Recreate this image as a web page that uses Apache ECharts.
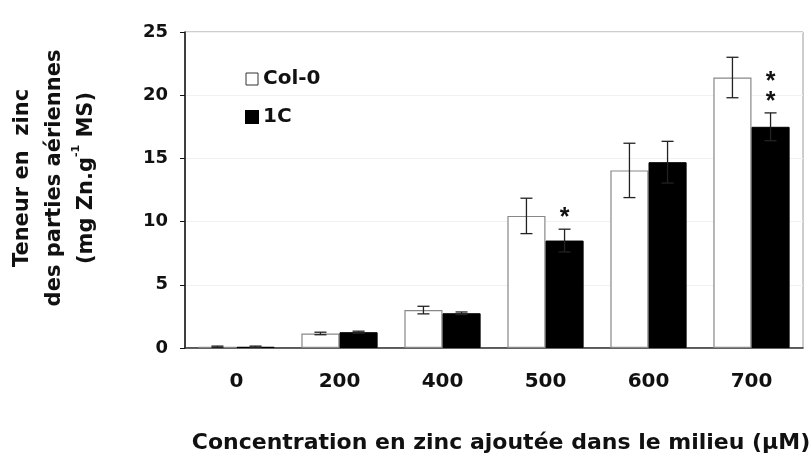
<!DOCTYPE html>
<html>
<head>
<meta charset="utf-8">
<script src="https://cdn.jsdelivr.net/npm/echarts@6/dist/echarts.min.js"></script>
<style>
  html, body { margin: 0; padding: 0; background: #fff; }
  #chart { width: 811px; height: 457px; }
</style>
</head>
<body>
<div id="chart"></div>
<script>
// concentrations (µM)
const categories = ['0', '200', '400', '500', '600', '700'];
// teneur en zinc (mg Zn.g-1 MS)
const col0 = [0.1, 1.15, 3.0, 10.45, 14.05, 21.4];
const col0Err = [0.05, 0.1, 0.3, 1.4, 2.15, 1.6];
const line1C = [0.1, 1.25, 2.75, 8.5, 14.7, 17.5];
const line1CErr = [0.05, 0.08, 0.1, 0.9, 1.65, 1.1];
const signif1C = ['', '', '', '*', '', '*\n*'];
const yTicks = [0, 5, 10, 15, 20, 25];

const FONT = 'DejaVu Sans, sans-serif';
const STAR_FONT = 'Liberation Sans, Arial, sans-serif';
const GAP = 0.26; // barCategoryGap

const chart = echarts.init(document.getElementById('chart'));

// barres d'erreur + astérisques, décalées sur la barre correspondante
function errorSeries(name, values, errs, side, marks) {
  return {
    type: 'custom',
    name: name + '-err',
    z: 5,
    data: values.map((v, i) => [i, v, errs[i]]),
    renderItem: function (params, api) {
      const i = api.value(0);
      const v = api.value(1);
      const e = api.value(2);
      const band = api.size([1, 0])[0];
      const bw = band * (1 - GAP) / 2;
      const c = api.coord([i, v]);
      const x = c[0] + side * bw / 2;
      const top = api.coord([i, v + e])[1];
      const bot = api.coord([i, v - e])[1];
      const cap = 6;
      const st = { stroke: '#222', lineWidth: 1.3 };
      const children = [
        { type: 'line', shape: { x1: x, y1: top, x2: x, y2: bot }, style: st },
        { type: 'line', shape: { x1: x - cap, y1: top, x2: x + cap, y2: top }, style: st },
        { type: 'line', shape: { x1: x - cap, y1: bot, x2: x + cap, y2: bot }, style: st }
      ];
      const mark = marks ? marks[params.dataIndex] : '';
      if (mark) {
        children.push({
          type: 'text',
          style: {
            text: mark, x: x, y: top - 1,
            align: 'center', verticalAlign: 'bottom',
            font: 'bold 25px ' + STAR_FONT, fill: '#111', lineHeight: 20
          }
        });
      }
      return { type: 'group', children: children };
    }
  };
}

const option = {
  animation: false,
  backgroundColor: '#fff',
  grid: {
    left: 185, right: 8, top: 32, bottom: 109,
    outerBoundsMode: 'none',
    containLabel: false,
    show: true, borderColor: '#9a9a9a', borderWidth: 1
  },
  legend: {
    orient: 'vertical',
    left: 245, top: 69,
    padding: 0,
    icon: 'rect',
    itemWidth: 12, itemHeight: 12, itemGap: 18,
    textStyle: { fontFamily: FONT, fontWeight: 'bold', fontSize: 20, lineHeight: 20, color: '#111' },
    data: [
      { name: 'Col-0', itemStyle: { color: '#fff', borderColor: '#333', borderWidth: 1 } },
      { name: '1C', itemStyle: { color: '#000' } }
    ]
  },
  xAxis: {
    type: 'category',
    data: categories,
    axisLine: { lineStyle: { color: '#333', width: 1.5 } },
    axisTick: { show: false },
    axisLabel: { margin: 24, fontFamily: FONT, fontWeight: 'bold', fontSize: 20, color: '#111' },
    name: 'Concentration en zinc ajoutée dans le milieu (µM)',
    nameLocation: 'middle',
    nameGap: 84,
    nameTextStyle: { fontFamily: FONT, fontWeight: 'bold', fontSize: 22, color: '#111', padding: [0, 0, 0, 14] }
  },
  yAxis: {
    type: 'value',
    min: 0, max: 25, interval: 5,
    axisLine: { show: true, lineStyle: { color: '#111', width: 1.5 } },
    axisTick: { show: true, inside: false, length: 5, lineStyle: { color: '#111' } },
    splitLine: { lineStyle: { color: '#f1f1f1' } },
    axisLabel: {
      margin: 17, fontFamily: FONT, fontWeight: 'bold', fontSize: 18, color: '#111',
      formatter: v => yTicks.includes(v) ? String(v) : ''
    },
    name: 'Teneur en  zinc\ndes parties aériennes\n(mg Zn.g{sup|-1} MS)',
    nameLocation: 'middle',
    nameRotate: 90,
    nameGap: 82,
    nameTextStyle: {
      fontFamily: FONT, fontWeight: 'bold', fontSize: 21, color: '#111', lineHeight: 32,
      padding: [0, 0, 0, 24],
      rich: { sup: { fontFamily: FONT, fontWeight: 'bold', fontSize: 11, lineHeight: 32, verticalAlign: 'top', padding: [0, 0, 10, 0] } }
    }
  },
  series: [
    {
      name: 'Col-0', type: 'bar', data: col0,
      barGap: '0%', barCategoryGap: (GAP * 100) + '%',
      itemStyle: { color: '#fff', borderColor: '#888', borderWidth: 1.2 }
    },
    {
      name: '1C', type: 'bar', data: line1C,
      barGap: '0%', barCategoryGap: (GAP * 100) + '%',
      itemStyle: { color: '#000', borderColor: '#000', borderWidth: 1 }
    },
    errorSeries('Col-0', col0, col0Err, -1, null),
    errorSeries('1C', line1C, line1CErr, 1, signif1C)
  ]
};

chart.setOption(option);
</script>
</body>
</html>
